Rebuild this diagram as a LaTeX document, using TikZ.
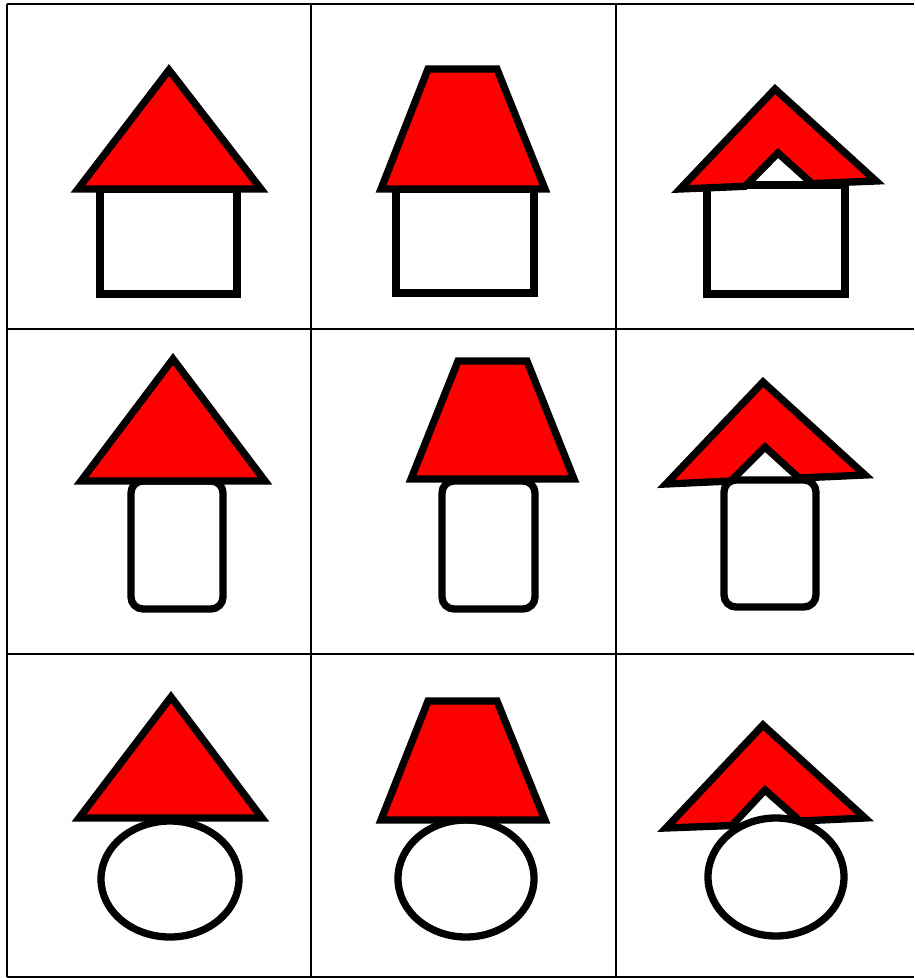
\documentclass[tikz,border=0pt]{standalone}
\begin{document}
\begin{tikzpicture}[x=1pt,y=-1pt,
  gridline/.style={line width=2.4pt,black},
  roof/.style={line width=7.3pt,draw=black,fill=red,line join=miter},
  body/.style={line width=7.3pt,draw=black,fill=white}]
\useasboundingbox (0,0) rectangle (914,978);
% grid
\foreach \yy in {4,329,654,977} \draw[gridline] (7,\yy) -- (914,\yy);
\foreach \xx in {7,311,616} \draw[gridline] (\xx,4) -- (\xx,977);
% row 1
\draw[body] (100,189) rectangle (237,294);
\draw[roof] (78,189) -- (169,70) -- (261,189) -- cycle;
\draw[body] (396,189) rectangle (534,293);
\draw[roof] (381,189) -- (428,69) -- (497,69) -- (545,189) -- cycle;
\draw[body] (707,185) rectangle (845,294);
\draw[roof] (680,189) -- (775,89) -- (876,181) -- (812,183.6) -- (778,153) -- (745,186.3) -- cycle;
% row 2
\draw[body,rounded corners=12pt] (131,481) rectangle (223,609);
\draw[roof] (81,481) -- (173,359) -- (265,481) -- cycle;
\draw[body,rounded corners=12pt] (442,481) rectangle (535,609);
\draw[roof] (411,479) -- (458,361) -- (527,361) -- (574,479) -- cycle;
\draw[body,rounded corners=12pt] (724,480) rectangle (816,607);
\draw[roof] (666,484) -- (763,382) -- (865,475) -- (799,478) -- (765,447) -- (731,481) -- cycle;
% row 3
\draw[body] (170,879) ellipse [x radius=69, y radius=58];
\draw[roof] (79,818) -- (171,697) -- (262,818) -- cycle;
\draw[body] (466,878.5) ellipse [x radius=68, y radius=58.5];
\draw[roof] (381,820) -- (428,701) -- (497,701) -- (545,820) -- cycle;
\draw[body] (776,877) ellipse [x radius=68, y radius=59];
\draw[roof] (666,828) -- (763,725) -- (865,818) -- (800,821) -- (765,790) -- (732,825.5) -- cycle;
\end{tikzpicture}
\end{document}
